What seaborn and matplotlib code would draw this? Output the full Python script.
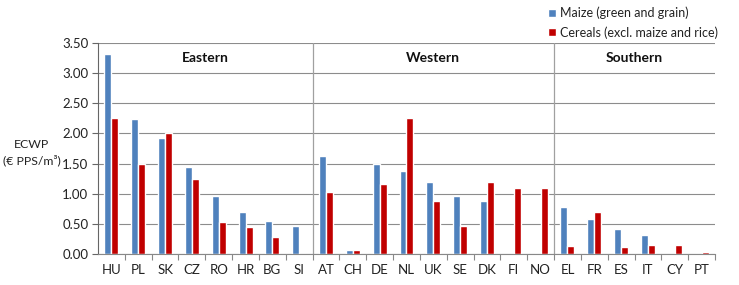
import matplotlib
matplotlib.use("Agg")
import matplotlib.pyplot as plt
import seaborn as sns
import pandas as pd
import numpy as np
from matplotlib.ticker import FixedLocator

countries = ["HU", "PL", "SK", "CZ", "RO", "HR", "BG", "SI",
             "AT", "CH", "DE", "NL", "UK", "SE", "DK", "FI", "NO",
             "EL", "FR", "ES", "IT", "CY", "PT"]
maize = [3.32, 2.24, 1.93, 1.44, 0.96, 0.70, 0.55, 0.46,
         1.62, 0.06, 1.50, 1.38, 1.19, 0.96, 0.88, 0.0, 0.0,
         0.78, 0.58, 0.41, 0.31, 0.0, 0.0]
cereals = [2.25, 1.50, 2.00, 1.24, 0.53, 0.44, 0.29, 0.0,
           1.03, 0.06, 1.16, 2.25, 0.88, 0.46, 1.19, 1.09, 1.09,
           0.13, 0.70, 0.12, 0.15, 0.15, 0.03]
series_names = ["Maize (green and grain)", "Cereals (excl. maize and rice)"]
regions = ["Eastern", "Western", "Southern"]
region_sizes = [8, 9, 6]

df = pd.DataFrame({
    "country": countries * 2,
    "value": maize + cereals,
    "series": [series_names[0]] * len(countries) + [series_names[1]] * len(countries),
})

sns.set_theme(style="white")
plt.rcParams["font.family"] = ["Lato", "DejaVu Sans"]

fig = plt.figure(figsize=(7.39, 2.85), dpi=100)
ax = fig.add_axes([0.1326, 0.1088, 0.9675 - 0.1326, 0.849 - 0.1088])

sns.barplot(data=df, x="country", y="value", hue="series", order=countries,
            hue_order=series_names, palette=["#4F81BD", "#C00000"],
            saturation=1, width=0.52, ax=ax, legend=True)

ax.set_ylim(0, 3.5)
ax.set_xlim(-0.5, len(countries) - 0.5)
ax.set_yticks(np.arange(0, 3.51, 0.5))
ax.set_yticklabels([f"{v:.2f}" for v in np.arange(0, 3.51, 0.5)], fontsize=9.5, color="#222222")
ax.yaxis.grid(True, color="#8c8c8c", linewidth=0.8)
ax.set_axisbelow(True)
ax.tick_params(axis="y", length=4, width=0.8, color="#666666", left=True, pad=3)
ax.tick_params(axis="x", which="major", length=0, labelsize=9.5, labelcolor="#222222", pad=7)
ax.xaxis.set_minor_locator(FixedLocator(np.arange(0.5, len(countries) - 0.5 + 1, 1.0)))
ax.tick_params(axis="x", which="minor", length=4, width=0.8, color="#888888", bottom=True)
ax.set_xlabel("")
ax.set_ylabel("ECWP\n(€ PPS/m³)", rotation=0, fontsize=8.8, color="#222222",
              ha="center", va="center", linespacing=1.5)
ax.yaxis.set_label_coords(-0.107, 0.48)

for s in ["top", "right"]:
    ax.spines[s].set_visible(False)
ax.spines["left"].set_color("#666666")
ax.spines["bottom"].set_color("#888888")
ax.spines["left"].set_linewidth(0.8)
ax.spines["bottom"].set_linewidth(0.8)

# region separators and labels
start = 0
for i, (name, n) in enumerate(zip(regions, region_sizes)):
    end = start + n
    if i > 0:
        ax.axvline(start - 0.5, color="#a0a0a0", linewidth=0.9)
    ax.text((start + end - 1) / 2, 3.25, name, ha="center", va="center",
            fontsize=10, fontweight="bold", color="#111111")
    start = end

leg = ax.legend(loc="upper left", bbox_to_anchor=(0.722, 1.195), frameon=False,
                fontsize=9, handlelength=0.6, handleheight=0.6, handletextpad=0.3,
                labelspacing=0.55, borderaxespad=0)
for t in leg.get_texts():
    t.set_color("#222222")

fig.savefig("out.png", dpi=100, facecolor="white")
